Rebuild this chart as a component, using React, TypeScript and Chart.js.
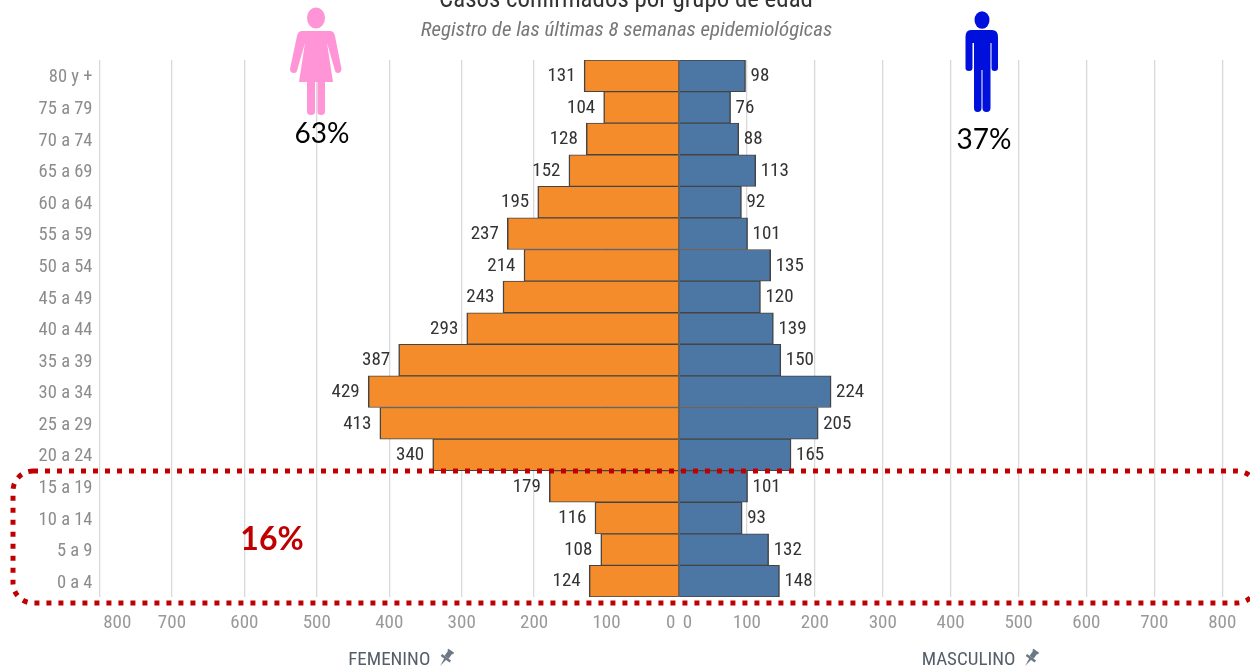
import React, { useEffect, useRef } from "react";
import { Chart, registerables } from "chart.js";

Chart.register(...registerables);

const ageGroups = ["80 y +", "75 a 79", "70 a 74", "65 a 69", "60 a 64", "55 a 59", "50 a 54", "45 a 49", "40 a 44", "35 a 39", "30 a 34", "25 a 29", "20 a 24", "15 a 19", "10 a 14", "5 a 9", "0 a 4"];
const femaleCases = [131, 104, 128, 152, 195, 237, 214, 243, 293, 387, 429, 413, 340, 179, 116, 108, 124];
const maleCases = [98, 76, 88, 113, 92, 101, 135, 120, 139, 150, 224, 205, 165, 101, 93, 132, 148];
const axisTicks = [0, 100, 200, 300, 400, 500, 600, 700, 800];
const titleText = "Casos confirmados por grupo de edad";
const subtitleText = "Registro de las últimas 8 semanas epidemiológicas";
const femaleShare = "63%";
const maleShare = "37%";
const highlightShare = "16%";

const NARROW = '"Roboto Condensed", Roboto, sans-serif';
const ROUND = 'Lato, "Open Sans", sans-serif';
const CANVAS_W = 1258;
const CANVAS_H = 669;
const THIN = "\u2009";

function drawFemale(c: CanvasRenderingContext2D) {
  c.fillStyle = "#FF94D6";
  c.beginPath();
  c.ellipse(316, 18, 9, 10.5, 0, 0, Math.PI * 2);
  c.fill();
  c.beginPath();
  c.moveTo(302, 31);
  c.lineTo(330, 31);
  c.quadraticCurveTo(334, 31, 335, 36);
  c.lineTo(341.5, 69);
  c.quadraticCurveTo(341, 73, 338, 73);
  c.quadraticCurveTo(335, 73, 334.5, 69);
  c.lineTo(327, 43);
  c.lineTo(333, 82);
  c.lineTo(325, 82);
  c.lineTo(325, 112);
  c.quadraticCurveTo(325, 115, 321, 115);
  c.quadraticCurveTo(317.5, 115, 317.5, 112);
  c.lineTo(317.5, 82);
  c.lineTo(315, 82);
  c.lineTo(315, 112);
  c.quadraticCurveTo(315, 115, 311, 115);
  c.quadraticCurveTo(307, 115, 307, 112);
  c.lineTo(307, 82);
  c.lineTo(299, 82);
  c.lineTo(305, 43);
  c.lineTo(297.5, 69);
  c.quadraticCurveTo(297, 73, 294, 73);
  c.quadraticCurveTo(290, 73, 290, 69);
  c.lineTo(297, 36);
  c.quadraticCurveTo(298, 31, 302, 31);
  c.closePath();
  c.fill();
}

function drawMale(c: CanvasRenderingContext2D) {
  c.fillStyle = "#0010DC";
  c.beginPath();
  c.ellipse(982, 20, 7.5, 8.8, 0, 0, Math.PI * 2);
  c.fill();
  c.beginPath();
  c.moveTo(971, 30);
  c.lineTo(992, 30);
  c.quadraticCurveTo(998, 30, 998, 37);
  c.lineTo(998, 68);
  c.quadraticCurveTo(998, 71, 994.5, 71);
  c.quadraticCurveTo(991.5, 71, 991.5, 68);
  c.lineTo(991.5, 43);
  c.lineTo(990.5, 43);
  c.lineTo(990.5, 108);
  c.quadraticCurveTo(990.5, 112, 986.5, 112);
  c.quadraticCurveTo(982.5, 112, 982.5, 108);
  c.lineTo(982.5, 70);
  c.lineTo(981.5, 70);
  c.lineTo(981.5, 108);
  c.quadraticCurveTo(981.5, 112, 977.5, 112);
  c.quadraticCurveTo(974, 112, 974, 108);
  c.lineTo(974, 43);
  c.lineTo(972.5, 43);
  c.lineTo(972.5, 68);
  c.quadraticCurveTo(972.5, 71, 969, 71);
  c.quadraticCurveTo(965.5, 71, 965.5, 68);
  c.lineTo(965.5, 37);
  c.quadraticCurveTo(965.5, 30, 971, 30);
  c.closePath();
  c.fill();
}

function drawPin(c: CanvasRenderingContext2D, x: number, y: number) {
  c.save();
  c.translate(x, y);
  c.rotate(Math.PI / 5);
  c.fillStyle = "#6D7886";
  c.fillRect(-3.5, -9, 7, 2);
  c.fillRect(-2.5, -8, 5, 7);
  c.fillRect(-5.5, -1, 11, 2.5);
  c.beginPath();
  c.moveTo(-1.2, 1);
  c.lineTo(1.2, 1);
  c.lineTo(0, 10);
  c.closePath();
  c.fill();
  c.restore();
}

const overlayPlugin = {
  id: "overlay",
  afterDraw(chart: any) {
    const c: CanvasRenderingContext2D = chart.ctx;
    const area = chart.chartArea;
    c.save();
    // shared zero line between the two panels
    const zero = chart.scales.xM.getPixelForValue(0);
    c.strokeStyle = "#444444";
    c.lineWidth = 1.6;
    c.beginPath();
    c.moveTo(zero, area.top);
    c.lineTo(zero, area.bottom);
    c.stroke();
    // value labels
    c.fillStyle = "#333333";
    c.font = `19px ${NARROW}`;
    c.textBaseline = "middle";
    chart.getDatasetMeta(0).data.forEach((bar: any, i: number) => {
      c.textAlign = "right";
      c.fillText(String(femaleCases[i]), bar.x - 8.5, bar.y + 0.5);
    });
    chart.getDatasetMeta(1).data.forEach((bar: any, i: number) => {
      c.textAlign = "left";
      c.fillText(String(maleCases[i]), bar.x + 5, bar.y + 0.5);
    });
    // headers
    c.textAlign = "center";
    c.textBaseline = "alphabetic";
    c.fillStyle = "#333333";
    c.font = `24.9px ${NARROW}`;
    c.fillText(titleText, 626, 7);
    c.fillStyle = "#777777";
    c.font = `italic 20.9px ${NARROW}`;
    c.fillText(subtitleText, 626.5, 36);
    // pictograms
    drawFemale(c);
    drawMale(c);
    c.fillStyle = "#000000";
    c.font = `28px ${ROUND}`;
    c.textBaseline = "middle";
    c.fillText(femaleShare, 322, 134);
    c.fillText(maleShare, 984, 140);
    // highlight box
    c.strokeStyle = "#C00000";
    c.lineWidth = 5;
    c.setLineDash([5, 7]);
    c.beginPath();
    c.roundRect(13, 471, 1244, 132, 20);
    c.stroke();
    c.setLineDash([]);
    c.fillStyle = "#C00000";
    c.font = `bold 32px ${ROUND}`;
    c.fillText(highlightShare, 272, 540);
    drawPin(c, 446, 658);
    drawPin(c, 1031, 658);
    c.restore();
  },
};

const gridColor = (ctx: any) => (ctx.tick && ctx.tick.value > 0 && ctx.tick.value % 100 === 0 ? "#D9D9D9" : "rgba(0,0,0,0)");

function xAxis(reverse: boolean, max: number, weight: number, title: string, labelOf: (v: number) => string) {
  return {
    type: "linear",
    position: "bottom",
    stack: "pyramid",
    stackWeight: weight,
    reverse,
    min: 0,
    max,
    border: { display: false },
    grid: { color: gridColor, lineWidth: 1.3, drawTicks: false },
    afterBuildTicks: (s: any) => {
      s.ticks = axisTicks.map((value) => ({ value }));
      if (max > 800) s.ticks.push({ value: max });
    },
    ticks: {
      align: "inner",
      autoSkip: false,
      maxRotation: 0,
      padding: 15,
      color: "#999999",
      font: { family: NARROW, size: 19 },
      callback: (v: number) => (v % 100 === 0 ? labelOf(v) : ""),
    },
    title: {
      display: true,
      text: title,
      color: "#555E68",
      font: { family: NARROW, size: 19 },
      padding: { top: 0, bottom: -3 },
    },
    afterFit: (s: any) => {
      s.height = 72;
      s.paddingLeft = 0;
      s.paddingRight = 0;
    },
  };
}

const femaleTickLabel = (v: number) => (v === 0 ? "0" + THIN : v === 800 ? THIN + "800" : String(v));
const maleTickLabel = (v: number) => (v === 0 ? THIN + "0" : String(v));

export default function App() {
  const ref = useRef<HTMLCanvasElement>(null);
  useEffect(() => {
    document.body.style.margin = "0";
    const chart = new Chart(ref.current as HTMLCanvasElement, {
      type: "bar",
      data: {
        labels: ageGroups,
        datasets: [
          {
            label: "Femenino",
            data: femaleCases,
            xAxisID: "xF",
            yAxisID: "y",
            backgroundColor: "#F48C2C",
            borderColor: "#444444",
            borderWidth: { top: 1, bottom: 1, left: 1.5, right: 0 },
            borderSkipped: false,
            barPercentage: 1,
            categoryPercentage: 1,
          },
          {
            label: "Masculino",
            data: maleCases,
            xAxisID: "xM",
            yAxisID: "y",
            backgroundColor: "#4C76A4",
            borderColor: "#444444",
            borderWidth: { top: 1, bottom: 1, left: 0, right: 1.5 },
            borderSkipped: false,
            barPercentage: 1,
            categoryPercentage: 1,
          },
        ],
      },
      options: {
        indexAxis: "y",
        animation: false,
        responsive: false,
        layout: { padding: { top: 60, left: 0, right: 0, bottom: 0 } },
        plugins: { legend: { display: false }, title: { display: false }, tooltip: { enabled: false } },
        scales: {
          xF: xAxis(true, 800, 579.5, "FEMENINO", femaleTickLabel),
          xM: xAxis(false, 852.7, 579, "MASCULINO", maleTickLabel),
          y: {
            type: "category",
            stacked: true,
            border: { display: false },
            grid: { display: false, drawTicks: false },
            ticks: { color: "#8C8C8C", autoSkip: false, padding: 7, labelOffset: 2, font: { family: NARROW, size: 18.5 } },
            afterFit: (s: any) => {
              s.width = 99.5;
            },
          },
        },
      } as any,
      plugins: [overlayPlugin],
    });
    return () => chart.destroy();
  }, []);
  return (
    <div style={{ position: "absolute", left: 0, top: 0, width: 1250, height: 669, overflow: "hidden", background: "#fff" }}>
      <canvas ref={ref} width={CANVAS_W} height={CANVAS_H} style={{ display: "block" }} />
    </div>
  );
}
